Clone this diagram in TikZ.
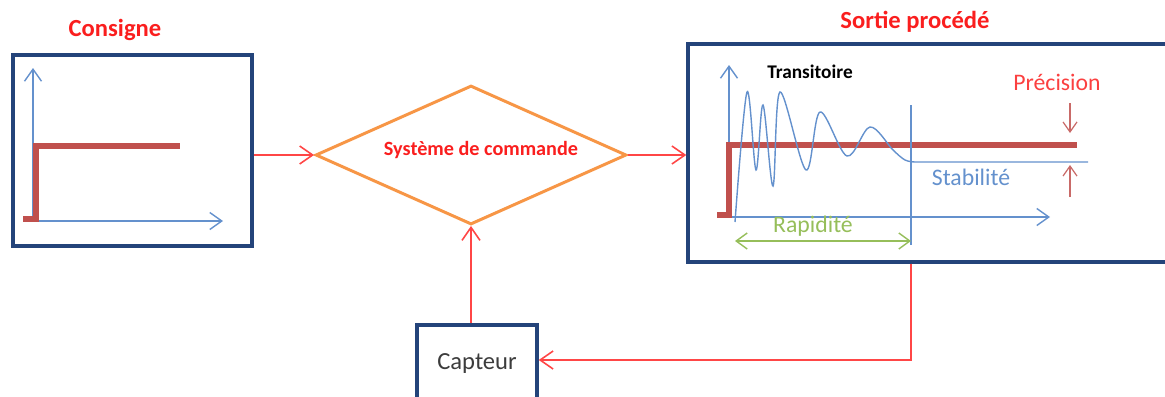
\documentclass[tikz,border=0pt]{standalone}
\usepackage{fontspec}
\setmainfont{Carlito}
\usetikzlibrary{shapes.geometric, arrows.meta, positioning}
\definecolor{boxnavy}{RGB}{36,68,122}
\definecolor{stepred}{RGB}{192,80,77}
\definecolor{axisblue}{RGB}{100,145,205}
\definecolor{signalred}{RGB}{255,70,70}
\definecolor{cmdorange}{RGB}{247,150,70}
\definecolor{labelred}{RGB}{250,30,30}
\definecolor{rapidgreen}{RGB}{150,190,90}
\definecolor{textgray}{RGB}{60,60,60}

\begin{document}
\begin{tikzpicture}[x=0.02cm, y=-0.02cm,
    box/.style={draw=boxnavy, line width=2pt, inner sep=0pt},
    title/.style={text=labelred, font=\fontsize{14}{16}\selectfont\bfseries},
    arrow/.style={-{Straight Barb[length=2.6mm,width=3.6mm]}, draw=signalred, line width=0.9pt},
    axis/.style={-{Straight Barb[length=2.4mm,width=3.4mm]}, draw=axisblue, line width=0.8pt},
    stepline/.style={draw=stepred, line width=3.2pt},
    tick/.style={-{Straight Barb[length=2mm,width=2.8mm]}, draw=stepred!85, line width=0.7pt},
    note/.style={font=\fontsize{13.5}{15}\selectfont}
]
    \clip (0,0) rectangle (1165,396);

    \node[box, minimum width=4.78cm, minimum height=3.82cm] (consigne) at (132.5,150.5) {};
    \node[title] (consignetxt) at (115,30) {Consigne};
    \node[diamond, draw=cmdorange, line width=1.7pt, aspect=2.24, minimum width=6.22cm, minimum height=2.78cm, inner sep=0pt] (cmd) at (471,155) {};
    \node[text=labelred, font=\fontsize{11.5}{13}\selectfont\bfseries] (cmdtxt) at (481,150) {Système de commande};
    \node[box, minimum width=9.74cm, minimum height=4.36cm] (sortie) at (931.5,153) {};
    \node[title] (sortietxt) at (915,22) {Sortie procédé};
    \node[box, anchor=north, minimum width=2.4cm, text height=0.9cm, text depth=1.2cm,
          text=textgray, font=\fontsize{14}{16}\selectfont] (capteur) at (477,323) {Capteur};

    % signal path
    \coordinate (fb) at (911,360);
    \draw[arrow] (consigne.east |- cmd.west) -- (cmd.west);
    \draw[arrow] (cmd.east) -- (sortie.west |- cmd.east);
    \draw[arrow] (sortie.south -| fb) |- (capteur.east |- fb);
    \draw[arrow] (cmd.south |- capteur.north) -- (cmd.south);

    % step input
    \coordinate (o1) at (33,221);
    \draw[axis] (o1) -- ++(0,-153);
    \draw[axis] (o1) -- ++(190,0);
    \draw[stepline] (23,219) -- (36,219) -- (36,146) -- (180,146);

    % process response
    \coordinate (o2) at (729,217);
    \draw[axis] (o2) -- ++(0,-152);
    \draw[axis] (o2) -- ++(321,0);
    \draw[stepline] (717,215) -- (729,215) -- (729,145) -- (1077,145);
    \draw[axisblue, line width=0.8pt] plot[smooth, tension=0.55] coordinates {
        (735,222) (747,92) (756,170) (763,105) (773,186) (780,92) (806,170)
        (820,112) (847,156) (870,127) (893,150) (905,160) (915,162)} -- (1088,162);
    \draw[axisblue, line width=0.8pt] (911,105) -- (911,245);
    \node[font=\fontsize{11}{13}\selectfont\bfseries] (transit) at (810,72) {Transitoire};
    \node[note, text=labelred!85] (precision) at (1057,82) {Précision};
    \node[note, text=axisblue] (stab) at (971,177) {Stabilité};
    \node[note, text=rapidgreen] (rapid) at (813,226) {Rapidité};
    \coordinate (pd) at (1070,103);
    \coordinate (pu) at (1070,197);
    \draw[tick] (pd) -- ++(0,30);
    \draw[tick] (pu) -- ++(0,-32);
    \draw[{Straight Barb[length=2.2mm,width=3.2mm]}-{Straight Barb[length=2.2mm,width=3.2mm]}, rapidgreen, line width=0.8pt]
        (735,241) -- (911,241);
\end{tikzpicture}
\end{document}
